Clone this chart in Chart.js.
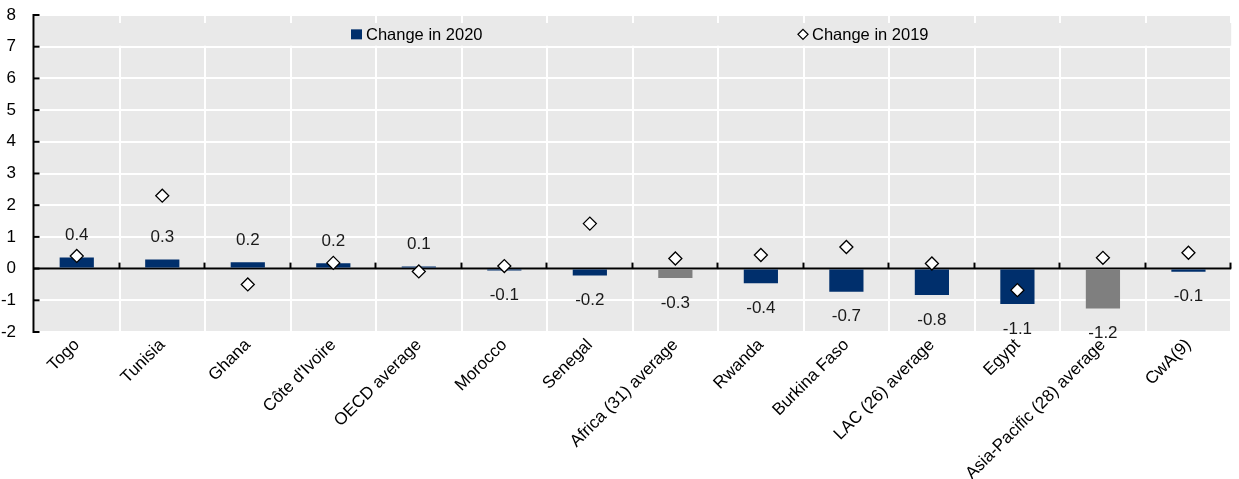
<!DOCTYPE html>
<html>
<head>
<meta charset="utf-8">
<script src="https://cdn.jsdelivr.net/npm/chart.js@4/dist/chart.umd.min.js"></script>
<style>
  html, body { margin: 0; padding: 0; background: #fff; }
  #wrap { width: 1239px; height: 479px; }
</style>
</head>
<body>
<div id="wrap"><canvas id="chart"></canvas></div>
<script>
const categories = ['Togo', 'Tunisia', 'Ghana', "Côte d'Ivoire", 'OECD average', 'Morocco', 'Senegal',
  'Africa (31) average', 'Rwanda', 'Burkina Faso', 'LAC (26) average', 'Egypt',
  'Asia-Pacific (28) average', 'CwA(9)'];
const change2020 = [0.35, 0.29, 0.2, 0.17, 0.07, -0.06, -0.22, -0.3, -0.46, -0.73, -0.83, -1.12, -1.26, -0.1];
const labels2020 = ['0.4', '0.3', '0.2', '0.2', '0.1', '-0.1', '-0.2', '-0.3', '-0.4', '-0.7', '-0.8', '-1.1', '-1.2', '-0.1'];
const change2019 = [0.4, 2.3, -0.5, 0.18, -0.09, 0.08, 1.42, 0.32, 0.43, 0.68, 0.16, -0.68, 0.34, 0.5];
const yMin = -2, yMax = 8;
const greyBars = ['Africa (31) average', 'Asia-Pacific (28) average'];

const navy = '#002F6C';
const grey = '#7F7F7F';
const fontFam = "'Liberation Sans', Arial, sans-serif";
Chart.defaults.font.family = fontFam;
Chart.defaults.color = '#000';

const decor = {
  id: 'decor',
  beforeDraw(chart) {
    const { ctx, chartArea: a } = chart;
    ctx.save();
    ctx.fillStyle = '#E9E9E9';
    ctx.fillRect(a.left, a.top, a.right - a.left, a.bottom - a.top);
    ctx.restore();
  },
  beforeDatasetsDraw(chart) {
    const { ctx, chartArea: a, scales: { x, y } } = chart;
    ctx.save();
    // legend band sits inside the plot, between 7 and 8
    const bandTop = y.getPixelForValue(yMax) + 8;
    const bandBot = y.getPixelForValue(yMax - 1) - 1;
    ctx.fillStyle = '#E9E9E9';
    ctx.fillRect(a.left + 1, bandTop, a.right - a.left - 1, bandBot - bandTop);
    const ly = (bandTop + bandBot) / 2;
    ctx.fillStyle = navy;
    ctx.fillRect(351, ly - 5, 11, 10);
    ctx.font = '16.5px ' + fontFam;
    ctx.fillStyle = '#000';
    ctx.textBaseline = 'middle';
    ctx.fillText('Change in 2020', 366, ly + 1);
    ctx.beginPath();
    ctx.moveTo(803, ly - 5); ctx.lineTo(808, ly); ctx.lineTo(803, ly + 5); ctx.lineTo(798, ly); ctx.closePath();
    ctx.fillStyle = '#fff'; ctx.fill();
    ctx.strokeStyle = '#000'; ctx.lineWidth = 1.3; ctx.stroke();
    ctx.fillStyle = '#000';
    ctx.fillText('Change in 2019', 812, ly + 1);

    // zero line
    const y0 = y.getPixelForValue(0);
    ctx.strokeStyle = '#000';
    ctx.lineWidth = 2;
    ctx.beginPath(); ctx.moveTo(a.left, y0); ctx.lineTo(a.right, y0); ctx.stroke();
    // category ticks on zero line
    const step = (a.right - a.left) / categories.length;
    for (let i = 1; i <= categories.length; i++) {
      const px = Math.round(a.left + i * step) - 0.5;
      ctx.beginPath(); ctx.moveTo(px, y0 - 6); ctx.lineTo(px, y0); ctx.stroke();
    }
    // left axis with inward ticks
    const lx = a.left - 0.5;
    ctx.beginPath(); ctx.moveTo(lx, y.getPixelForValue(yMax) - 1); ctx.lineTo(lx, y.getPixelForValue(yMin) + 1); ctx.stroke();
    for (let v = yMin; v <= yMax; v++) {
      const py = y.getPixelForValue(v);
      ctx.beginPath(); ctx.moveTo(lx, py); ctx.lineTo(lx + 6, py); ctx.stroke();
    }
    ctx.restore();
  },
  afterDraw(chart) {
    const { ctx } = chart;
    const meta = chart.getDatasetMeta(0);
    ctx.save();
    ctx.font = '17px ' + fontFam;
    ctx.fillStyle = '#1a1a1a';
    ctx.textAlign = 'center';
    ctx.textBaseline = 'middle';
    meta.data.forEach((bar, i) => {
      const v = change2020[i];
      const py = v >= 0 ? bar.y - 22 : bar.y + 25;
      ctx.fillText(labels2020[i], bar.x, py);
    });
    ctx.restore();
  }
};

new Chart(document.getElementById('chart'), {
  type: 'bar',
  data: {
    labels: categories,
    datasets: [{
      label: 'Change in 2020',
      data: change2020,
      backgroundColor: categories.map(c => greyBars.includes(c) ? grey : navy),
      barPercentage: 0.4,
      categoryPercentage: 1,
      order: 2
    }, {
      type: 'line',
      label: 'Change in 2019',
      data: change2019,
      showLine: false,
      pointStyle: 'rectRot',
      pointRadius: 6.5,
      pointBackgroundColor: '#fff',
      pointBorderColor: '#000',
      pointBorderWidth: 1.3,
      order: 1
    }]
  },
  options: {
    responsive: true,
    maintainAspectRatio: false,
    animation: false,
    layout: { padding: { top: 15, right: 4, left: 0, bottom: 0 } },
    plugins: {
      legend: { display: false },
      tooltip: { enabled: false }
    },
    scales: {
      x: {
        grid: { color: '#fff', lineWidth: 2, drawTicks: false },
        border: { display: false },
        ticks: {
          font: { size: 17 },
          color: '#000',
          minRotation: 45,
          maxRotation: 45,
          padding: 3,
          autoSkip: false
        },
        afterFit(scale) {
          scale.height = 147;
          scale.paddingTop = 0; scale.paddingBottom = 0;
        }
      },
      y: {
        min: yMin,
        max: yMax,
        grid: { color: '#fff', lineWidth: 2, drawTicks: false },
        border: { display: false },
        ticks: {
          stepSize: 1,
          font: { size: 17 },
          color: '#000',
          padding: 18
        },
        afterFit(scale) {
          scale.width = 34;
          scale.paddingTop = 0; scale.paddingBottom = 0;
        }
      }
    }
  },
  plugins: [decor]
});
</script>
</body>
</html>
